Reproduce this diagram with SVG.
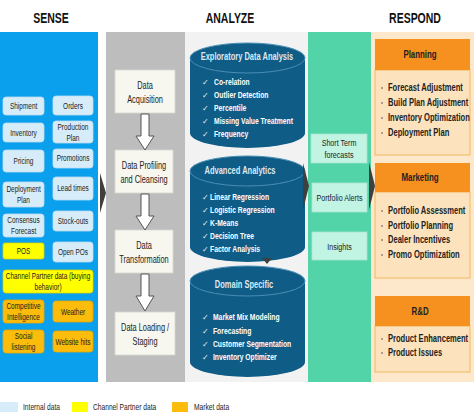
<svg xmlns="http://www.w3.org/2000/svg" width="474" height="417" viewBox="0 0 474 417">
<style>
text{font-family:"Liberation Sans",Arial,sans-serif;transform-box:fill-box}
.m{text-anchor:middle;transform-origin:center}
.s{text-anchor:start;transform-origin:left center}
.hdr{font-weight:bold;font-size:14px;fill:#111;text-anchor:middle;transform-origin:center;transform:scaleX(0.75)}
.t{font-size:9px;fill:#222;transform:scaleX(0.72)}
.w{font-size:10px;fill:#222;transform:scaleX(0.74)}
.ci{font-size:9.4px;font-weight:bold;fill:#fff;transform:scaleX(0.72)}
.ck{font-size:8px;fill:#e8f0f5;font-family:"DejaVu Sans",sans-serif}
.ct{font-size:10.5px;font-weight:bold;fill:#dce8f0;transform:scaleX(0.715)}
.ri{font-size:10px;font-weight:bold;fill:#222;transform:scaleX(0.755)}
.rh{font-size:10.5px;font-weight:bold;fill:#222;transform:scaleX(0.75)}
.tw{font-size:9.4px;fill:#222;transform:scaleX(0.76)}
.lg{font-size:9px;fill:#222;transform:scaleX(0.74)}
.bl{fill:#d6edf9;stroke:#bcdcef;stroke-width:0.8}
.ye{fill:#ffff00;stroke:#e0d000;stroke-width:0.8}
.or{fill:#fbbc0b;stroke:#e8a800;stroke-width:0.8}
.wb{fill:#f7f7ef;stroke:#d8d8d0;stroke-width:0.8}
.mint{fill:#c2f4e3;stroke:#a8e6d2;stroke-width:0.8}
.cyl{fill:#0f5c86}
.cytop{fill:#0f5c86;stroke:#4a8fb6;stroke-width:1}
.oh{fill:#f6901f}
.ob{fill:#fde3bd;stroke:#f0b860;stroke-width:1}
.arr{fill:#fff;stroke:#555;stroke-width:1}
.chev{fill:#3f3f3f}
.dot{fill:#888}
</style>

<rect width="474" height="417" fill="#fff"/>

<text class="hdr" x="51" y="23">SENSE</text>
<text class="hdr" x="230" y="23">ANALYZE</text>
<text class="hdr" x="415" y="23">RESPOND</text>

<!-- panels -->
<rect x="0" y="32" width="98" height="350" fill="#0ba0ee"/>
<rect x="106" y="32" width="79" height="350" fill="#bdbdbd"/>
<rect x="185" y="32" width="123" height="350" fill="#f2f2f2"/>
<rect x="308" y="32" width="63" height="350" fill="#52d4a8"/>
<rect x="371" y="32" width="103" height="350" fill="#fde8cb"/>

<!-- SENSE nodes -->
<g id="shipment"><rect class="bl" x="3" y="97" width="41" height="18" rx="3"/><text class="t m" x="23.5" y="109.5">Shipment</text></g>
<g id="orders"><rect class="bl" x="53" y="96" width="40" height="19" rx="3"/><text class="t m" x="73" y="109">Orders</text></g>
<g id="inventory"><rect class="bl" x="3" y="123" width="41" height="19" rx="3"/><text class="t m" x="23.5" y="136">Inventory</text></g>
<g id="production-plan"><rect class="bl" x="53" y="121" width="40" height="22" rx="3"/><text class="t m" x="73" y="130">Production</text><text class="t m" x="73" y="141">Plan</text></g>
<g id="pricing"><rect class="bl" x="3" y="150" width="41" height="22" rx="3"/><text class="t m" x="23.5" y="164.5">Pricing</text></g>
<g id="promotions"><rect class="bl" x="53" y="149" width="40" height="19" rx="3"/><text class="t m" x="73" y="161.5">Promotions</text></g>
<g id="deployment-plan"><rect class="bl" x="3" y="182" width="41" height="25" rx="3"/><text class="t m" x="23.5" y="192.5">Deployment</text><text class="t m" x="23.5" y="203.5">Plan</text></g>
<g id="lead-times"><rect class="bl" x="53" y="177" width="40" height="23" rx="3"/><text class="t m" x="73" y="191.5">Lead times</text></g>
<g id="consensus-forecast"><rect class="bl" x="3" y="214" width="41" height="23" rx="3"/><text class="t m" x="23.5" y="223.5">Consensus</text><text class="t m" x="23.5" y="234.5">Forecast</text></g>
<g id="stock-outs"><rect class="bl" x="53" y="211" width="40" height="20" rx="3"/><text class="t m" x="73" y="224.5">Stock-outs</text></g>
<g id="pos"><rect class="ye" x="3" y="243" width="41" height="16" rx="2"/><text class="t m" x="23.5" y="254.5">POS</text></g>
<g id="open-pos"><rect class="bl" x="53" y="242" width="40" height="20" rx="3"/><text class="t m" x="73" y="255.5">Open POs</text></g>
<g id="channel-partner"><rect class="ye" x="3" y="270" width="90" height="23" rx="3"/><text class="t m" x="48" y="279.5">Channel Partner data (buying</text><text class="t m" x="48" y="290.5">behavior)</text></g>
<g id="competitive-intelligence"><rect class="or" x="3" y="300" width="41" height="23" rx="3"/><text class="t m" x="23.5" y="309.5">Competitive</text><text class="t m" x="23.5" y="320.5">Intelligence</text></g>
<g id="weather"><rect class="or" x="53" y="301" width="40" height="21" rx="3"/><text class="t m" x="73" y="315">Weather</text></g>
<g id="social-listening"><rect class="or" x="3" y="330" width="41" height="23" rx="3"/><text class="t m" x="23.5" y="339.5">Social</text><text class="t m" x="23.5" y="350.5">listening</text></g>
<g id="website-hits"><rect class="or" x="53" y="331" width="40" height="21" rx="3"/><text class="t m" x="73" y="345">Website hits</text></g>

<!-- ANALYZE process nodes -->
<g id="data-acquisition"><rect class="wb" x="115" y="70" width="60" height="43"/><text class="w m" x="145" y="89">Data</text><text class="w m" x="145" y="103">Acquisition</text></g>
<g id="data-profiling"><rect class="wb" x="115" y="150" width="58" height="43"/><text class="w m" x="144" y="169">Data Profiling</text><text class="w m" x="144" y="183">and Cleansing</text></g>
<g id="data-transformation"><rect class="wb" x="115" y="230" width="58" height="43"/><text class="w m" x="144" y="249">Data</text><text class="w m" x="144" y="263">Transformation</text></g>
<g id="data-loading"><rect class="wb" x="115" y="312" width="60" height="43"/><text class="w m" x="145" y="331">Data Loading /</text><text class="w m" x="145" y="345">Staging</text></g>

<!-- Cylinders -->
<g id="exploratory">
<path class="cyl" d="M190,58 L190,133 A57.5,15 0 0 0 305,133 L305,58 Z"/>
<ellipse class="cytop" cx="247.5" cy="58" rx="57.5" ry="15"/>
<text class="ct m" x="247" y="60">Exploratory Data Analysis</text>
<text class="ck" x="202" y="85">✓</text><text class="ci s" x="214" y="85">Co-relation</text>
<text class="ck" x="202" y="98">✓</text><text class="ci s" x="214" y="98">Outlier Detection</text>
<text class="ck" x="202" y="111">✓</text><text class="ci s" x="214" y="111">Percentile</text>
<text class="ck" x="202" y="124">✓</text><text class="ci s" x="214" y="124">Missing Value Treatment</text>
<text class="ck" x="202" y="137">✓</text><text class="ci s" x="214" y="137">Frequency</text>
</g>
<g id="advanced">
<path class="cyl" d="M190,171 L190,247 A57.5,15 0 0 0 305,247 L305,171 Z"/>
<ellipse class="cytop" cx="247.5" cy="171" rx="57.5" ry="15"/>
<text class="ct m" x="240" y="174">Advanced Analytics</text>
<text class="ck" x="202" y="200">✓</text><text class="ci s" x="210" y="200">Linear Regression</text>
<text class="ck" x="202" y="213">✓</text><text class="ci s" x="210" y="213">Logistic Regression</text>
<text class="ck" x="202" y="226">✓</text><text class="ci s" x="210" y="226">K-Means</text>
<text class="ck" x="202" y="239">✓</text><text class="ci s" x="210" y="239">Decision Tree</text>
<text class="ck" x="202" y="252">✓</text><text class="ci s" x="210" y="252">Factor Analysis</text>
</g>
<g id="domain">
<path class="cyl" d="M190,281 L190,362 A57.5,15 0 0 0 305,362 L305,281 Z"/>
<ellipse class="cytop" cx="247.5" cy="281" rx="57.5" ry="15"/>
<text class="ct m" x="244" y="288">Domain Specific</text>
<text class="ck" x="202" y="320">✓</text><text class="ci s" x="213" y="320">Market Mix Modeling</text>
<text class="ck" x="202" y="334">✓</text><text class="ci s" x="213" y="334">Forecasting</text>
<text class="ck" x="202" y="347">✓</text><text class="ci s" x="213" y="347">Customer Segmentation</text>
<text class="ck" x="202" y="360">✓</text><text class="ci s" x="213" y="360">Inventory Optimizer</text>
</g>

<!-- Teal outputs -->
<g id="short-term"><rect class="mint" x="311" y="134" width="56" height="29"/><text class="tw m" x="339" y="146">Short Term</text><text class="tw m" x="339" y="158">forecasts</text></g>
<g id="portfolio-alerts"><rect class="mint" x="312" y="183" width="55" height="29"/><text class="tw m" x="339.5" y="201">Portfolio Alerts</text></g>
<g id="insights"><rect class="mint" x="312" y="232" width="55" height="28"/><text class="tw m" x="339.5" y="250">Insights</text></g>

<!-- RESPOND -->
<g id="planning">
<rect class="ob" x="375" y="70" width="95" height="85"/>
<rect class="oh" x="375" y="39" width="95" height="31"/>
<text class="rh m" x="420" y="58">Planning</text>
<circle class="dot" cx="382" cy="88" r="1"/><text class="ri s" x="388" y="91">Forecast Adjustment</text>
<circle class="dot" cx="382" cy="103" r="1"/><text class="ri s" x="388" y="106">Build Plan Adjustment</text>
<circle class="dot" cx="382" cy="118" r="1"/><text class="ri s" x="388" y="121">Inventory Optimization</text>
<circle class="dot" cx="382" cy="133" r="1"/><text class="ri s" x="388" y="136">Deployment Plan</text>
</g>
<g id="marketing">
<rect class="ob" x="375" y="192" width="95" height="86"/>
<rect class="oh" x="375" y="163" width="95" height="29"/>
<text class="rh m" x="420" y="181">Marketing</text>
<circle class="dot" cx="382" cy="211" r="1"/><text class="ri s" x="388" y="214">Portfolio Assessment</text>
<circle class="dot" cx="382" cy="226" r="1"/><text class="ri s" x="388" y="229">Portfolio Planning</text>
<circle class="dot" cx="382" cy="240" r="1"/><text class="ri s" x="388" y="243">Dealer Incentives</text>
<circle class="dot" cx="382" cy="255" r="1"/><text class="ri s" x="388" y="258">Promo Optimization</text>
</g>
<g id="rnd">
<rect class="ob" x="375" y="326" width="95" height="46"/>
<rect class="oh" x="375" y="296" width="95" height="30"/>
<text class="rh m" x="420" y="315">R&amp;D</text>
<circle class="dot" cx="382" cy="339" r="1"/><text class="ri s" x="388" y="342">Product Enhancement</text>
<circle class="dot" cx="382" cy="353" r="1"/><text class="ri s" x="388" y="356">Product Issues</text>
</g>

<!-- connectors -->
<g id="connectors">
<path class="arr" d="M141,114 L149,114 L149,136 L154,136 L145,150 L136,136 L141,136 Z"/>
<path class="arr" d="M141,194 L149,194 L149,216 L154,216 L145,230 L136,216 L141,216 Z"/>
<path class="arr" d="M141,274 L149,274 L149,296 L154,296 L145,311 L136,296 L141,296 Z"/>
<path class="chev" d="M100,173 L106,193 L100,213 Z"/>
<path class="chev" d="M303,163 L309,186 L303,210 Z"/>
<path class="chev" d="M369,162 L375,186 L369,210 Z"/>
<path class="chev" d="M262,258 L272,258 L267,264 Z"/>
</g>

<!-- legend -->
<g id="legend">
<rect x="0" y="402" width="18" height="10" fill="#d6edf9"/>
<text class="lg s" x="23" y="410">Internal data</text>
<rect x="72" y="402" width="16" height="10" fill="#ffff00"/>
<text class="lg s" x="93" y="410">Channel Partner data</text>
<rect x="172" y="402" width="16" height="10" fill="#fbbc0b"/>
<text class="lg s" x="194" y="410">Market data</text>
</g>
</svg>
